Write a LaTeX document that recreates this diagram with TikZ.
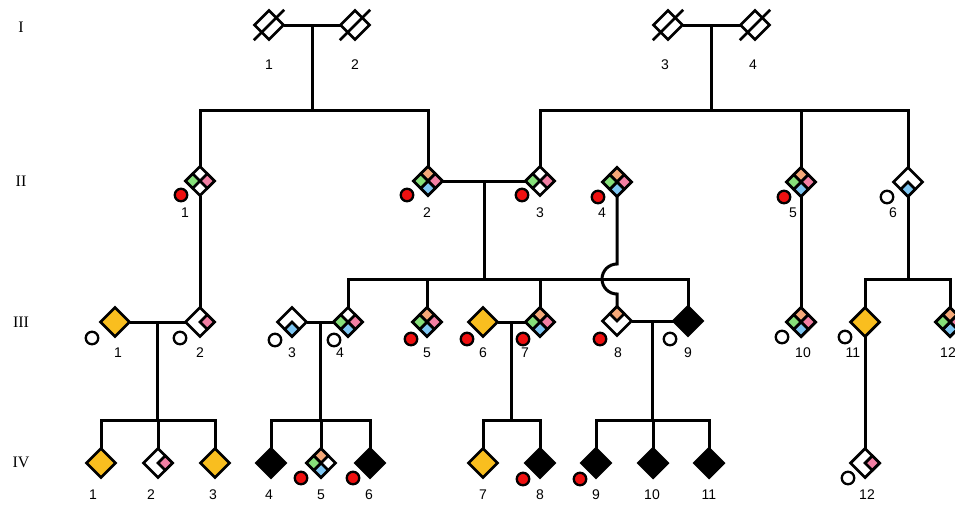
\documentclass[tikz,border=0pt]{standalone}
\usepackage{fontspec}
\setmainfont{Liberation Sans}
\newfontfamily\genfont{Liberation Serif}
\usetikzlibrary{shapes.geometric,calc,backgrounds}

\definecolor{qorange}{HTML}{F9BE1F}
\definecolor{qpeach}{HTML}{F4A878}
\definecolor{qgreen}{HTML}{86E07A}
\definecolor{qpink}{HTML}{F27FA4}
\definecolor{qblue}{HTML}{7EC6F2}
\definecolor{qred}{HTML}{F01010}

% one coloured quarter of a diamond: node, tip anchor, two neighbour anchors, colour
\newcommand\qpart[5]{\filldraw[fill=#5,draw=black,line width=2.8pt,line join=miter]
  (#1.#2) -- ($(#1.#2)!.5!(#1.#3)$) -- (#1.center) -- ($(#1.#2)!.5!(#1.#4)$) -- cycle;}
\newcommand\qtop[2]{\qpart{#1}{north}{east}{west}{#2}}
\newcommand\qright[2]{\qpart{#1}{east}{north}{south}{#2}}
\newcommand\qbot[2]{\qpart{#1}{south}{east}{west}{#2}}
\newcommand\qleft[2]{\qpart{#1}{west}{north}{south}{#2}}
\newcommand\qall[1]{\qtop{#1}{qpeach}\qright{#1}{qpink}\qbot{#1}{qblue}\qleft{#1}{qgreen}}
% slash through a deceased individual
\newcommand\deceased[1]{\draw[line width=2.6pt]
  ($(#1.center)!2.1!($(#1.south)!.5!(#1.west)$)$) -- ($(#1.center)!2.1!($(#1.north)!.5!(#1.east)$)$);}

\begin{document}
\begin{tikzpicture}[x=1pt,y=-1pt,line width=2.8pt,line join=miter,
  person/.style={diamond,aspect=1,draw=black,fill=white,line width=2.8pt,
    minimum size=29pt,inner sep=0pt,outer sep=0pt},
  affected/.style={person,fill=qorange},
  solid/.style={person,fill=black},
  ring/.style={circle,draw=black,line width=2.3pt,fill=white,minimum size=12.5pt,
    inner sep=0pt,outer sep=0pt},
  carrier/.style={ring,fill=qred},
  lab/.style={font=\fontsize{14}{14}\selectfont,inner sep=0pt},
  gen/.style={font=\genfont\fontsize{16}{16}\selectfont,inner sep=0pt},
  link/.style={draw=black,line width=3pt,line join=miter}]
\useasboundingbox (0,0) rectangle (955,504);
\clip (0,0) rectangle (955,504);

% generation numerals
\node[gen] (gI) at (21,27) {I};
\node[gen] (gII) at (21,181) {II};
\node[gen] (gIII) at (21,322) {III};
\node[gen] (gIV) at (21,462) {IV};

% generation I
\node[person] (p1-1) at (269,25) {};
\node[person] (p1-2) at (355,25) {};
\node[person] (p1-3) at (668,25) {};
\node[person] (p1-4) at (755,25) {};
\foreach \n in {p1-1,p1-2,p1-3,p1-4}{\deceased{\n}}
\node[lab] (l1-1) at (269,65) {1};
\node[lab] (l1-2) at (355,65) {2};
\node[lab] (l1-3) at (665,65) {3};
\node[lab] (l1-4) at (753,65) {4};

% generation II
\node[person] (p2-1) at (200,181) {}; \qright{p2-1}{qpink}\qleft{p2-1}{qgreen}
\node[person] (p2-2) at (428,181) {}; \qall{p2-2}
\node[person] (p2-3) at (540,181) {}; \qright{p2-3}{qpink}\qleft{p2-3}{qgreen}
\node[person] (p2-4) at (617,182) {}; \qall{p2-4}
\node[person] (p2-5) at (801,182) {}; \qall{p2-5}
\node[person] (p2-6) at (908,182) {}; \qbot{p2-6}{qblue}
\node[carrier] (c2-1) at (181,195) {};
\node[carrier] (c2-2) at (407,195) {};
\node[carrier] (c2-3) at (522,195) {};
\node[carrier] (c2-4) at (598,197) {};
\node[carrier] (c2-5) at (784,197) {};
\node[ring] (c2-6) at (887,197) {};
\node[lab] (l2-1) at (185,213) {1};
\node[lab] (l2-2) at (427,213) {2};
\node[lab] (l2-3) at (540,213) {3};
\node[lab] (l2-4) at (602,213) {4};
\node[lab] (l2-5) at (793,213) {5};
\node[lab] (l2-6) at (893,213) {6};

% generation III
\node[affected] (p3-1) at (115,322) {};
\node[person] (p3-2) at (200,322) {}; \qright{p3-2}{qpink}
\node[person] (p3-3) at (292,322) {}; \qbot{p3-3}{qblue}
\node[person] (p3-4) at (348,322) {}; \qright{p3-4}{qpink}\qbot{p3-4}{qblue}\qleft{p3-4}{qgreen}
\node[person] (p3-5) at (427,322) {}; \qall{p3-5}
\node[affected] (p3-6) at (483,322) {};
\node[person] (p3-7) at (540,322) {}; \qall{p3-7}
\node[person] (p3-8) at (617,321) {}; \qtop{p3-8}{qpeach}
\node[solid] (p3-9) at (688,321) {};
\node[person] (p3-10) at (801,322) {}; \qall{p3-10}
\node[affected] (p3-11) at (865,322) {};
\node[person] (p3-12) at (950,322) {}; \qall{p3-12}
\node[ring] (c3-1) at (92,338) {};
\node[ring] (c3-2) at (180,338) {};
\node[ring] (c3-3) at (275,340) {};
\node[ring] (c3-4) at (334,340) {};
\node[carrier] (c3-5) at (411,339) {};
\node[carrier] (c3-6) at (467,339) {};
\node[carrier] (c3-7) at (523,339) {};
\node[carrier] (c3-8) at (600,339) {};
\node[ring] (c3-9) at (670,339) {};
\node[ring] (c3-10) at (782,337) {};
\node[ring] (c3-11) at (845,337) {};
\node[lab] (l3-1) at (118,353) {1};
\node[lab] (l3-2) at (200,353) {2};
\node[lab] (l3-3) at (292,353) {3};
\node[lab] (l3-4) at (340,353) {4};
\node[lab] (l3-5) at (427,353) {5};
\node[lab] (l3-6) at (483,353) {6};
\node[lab] (l3-7) at (525,353) {7};
\node[lab] (l3-8) at (618,353) {8};
\node[lab] (l3-9) at (688,353) {9};
\node[lab] (l3-10) at (803,353) {10};
\node[lab] (l3-11) at (853,353) {11};
\node[lab] (l3-12) at (948,353) {12};

% generation IV
\node[affected] (p4-1) at (101,463) {};
\node[person] (p4-2) at (158,463) {}; \qright{p4-2}{qpink}
\node[affected] (p4-3) at (215,463) {};
\node[solid] (p4-4) at (271,463) {};
\node[person] (p4-5) at (321,463) {}; \qtop{p4-5}{qpeach}\qbot{p4-5}{qblue}\qleft{p4-5}{qgreen}
\node[solid] (p4-6) at (370,463) {};
\node[affected] (p4-7) at (483,463) {};
\node[solid] (p4-8) at (540,463) {};
\node[solid] (p4-9) at (596,463) {};
\node[solid] (p4-10) at (653,463) {};
\node[solid] (p4-11) at (709,463) {};
\node[person] (p4-12) at (865,463) {}; \qright{p4-12}{qpink}
\node[carrier] (c4-5) at (301,478) {};
\node[carrier] (c4-6) at (353,478) {};
\node[carrier] (c4-8) at (523,479) {};
\node[carrier] (c4-9) at (580,479) {};
\node[ring] (c4-12) at (848,478) {};
\node[lab] (l4-1) at (93,495) {1};
\node[lab] (l4-2) at (151,495) {2};
\node[lab] (l4-3) at (213,495) {3};
\node[lab] (l4-4) at (269,495) {4};
\node[lab] (l4-5) at (321,495) {5};
\node[lab] (l4-6) at (369,495) {6};
\node[lab] (l4-7) at (483,495) {7};
\node[lab] (l4-8) at (540,495) {8};
\node[lab] (l4-9) at (596,495) {9};
\node[lab] (l4-10) at (652,495) {10};
\node[lab] (l4-11) at (709,495) {11};
\node[lab] (l4-12) at (867,495) {12};

% sibship lines and couple midpoints
\coordinate (s1) at (313,110);
\coordinate (s2) at (710,110);
\coordinate (s3) at (483,279);
\coordinate (s4) at (908,279);
\coordinate (s5) at (158,420);
\coordinate (s6) at (320,420);
\coordinate (s7) at (512,420);
\coordinate (s8) at (653,420);
\coordinate (m1) at ($(p1-1.east)!.5!(p1-2.west)$);
\coordinate (m2) at ($(p1-3.east)!.5!(p1-4.west)$);
\coordinate (m3) at ($(p2-2.east)!.5!(p2-3.west)$);
\coordinate (m4) at ($(p3-1.east)!.5!(p3-2.west)$);
\coordinate (m5) at ($(p3-3.east)!.5!(p3-4.west)$);
\coordinate (m6) at ($(p3-6.east)!.5!(p3-7.west)$);
\coordinate (m7) at ($(p3-8.east)!.5!(p3-9.west)$);
\coordinate (hop) at (p2-4 |- s3);

\begin{scope}[on background layer,every path/.style={link}]
  % couples
  \draw (p1-1.east) -- (p1-2.west);
  \draw (p1-3.east) -- (p1-4.west);
  \draw (p2-2.east) -- (p2-3.west);
  \draw (p3-1.east) -- (p3-2.west);
  \draw (p3-3.east) -- (p3-4.west);
  \draw (p3-6.east) -- (p3-7.west);
  \draw (p3-8.east) -- (p3-9.west);
  % descent lines
  \draw (m1) -- (s1 -| m1);
  \draw (m2) -- (s2 -| m2);
  \draw (m3) -- (s3 -| m3);
  \draw (m4) -- (s5 -| m4);
  \draw (m5) -- (s6 -| m5);
  \draw (m6) -- (s7 -| m6);
  \draw (m7) -- (s8 -| m7);
  % generation II children
  \draw (p2-1.north) |- (s1) -| (p2-2.north);
  \draw (p2-3.north) |- (s2) -| (p2-6.north);
  \draw (p2-5.north) -- (p2-5.north |- s2);
  \draw (p2-1.south) -- (p3-2.north);
  \draw (p2-5.south) -- (p3-10.north);
  % generation III children
  \draw (p3-4.north) |- (s3) -| (p3-9.north);
  \draw (p3-5.north) -- (p3-5.north |- s3);
  \draw (p3-7.north) -- (p3-7.north |- s3);
  \draw (p2-4.south) -- ([yshift=15pt]hop) arc[start angle=90,end angle=270,radius=15pt]
    -- (p3-8.north);
  \draw (p2-6.south) -- (s4);
  \draw (p3-11.north) |- (s4) -| (p3-12.north);
  % generation IV children
  \draw (p4-1.north) |- (s5) -| (p4-3.north);
  \draw (p4-2.north) -- (p4-2.north |- s5);
  \draw (p4-4.north) |- (s6) -| (p4-6.north);
  \draw (p4-5.north) -- (p4-5.north |- s6);
  \draw (p4-7.north) |- (s7) -| (p4-8.north);
  \draw (p4-9.north) |- (s8) -| (p4-11.north);
  \draw (p4-10.north) -- (p4-10.north |- s8);
  \draw (p3-11.south) -- (p4-12.north);
\end{scope}
\end{tikzpicture}
\end{document}
